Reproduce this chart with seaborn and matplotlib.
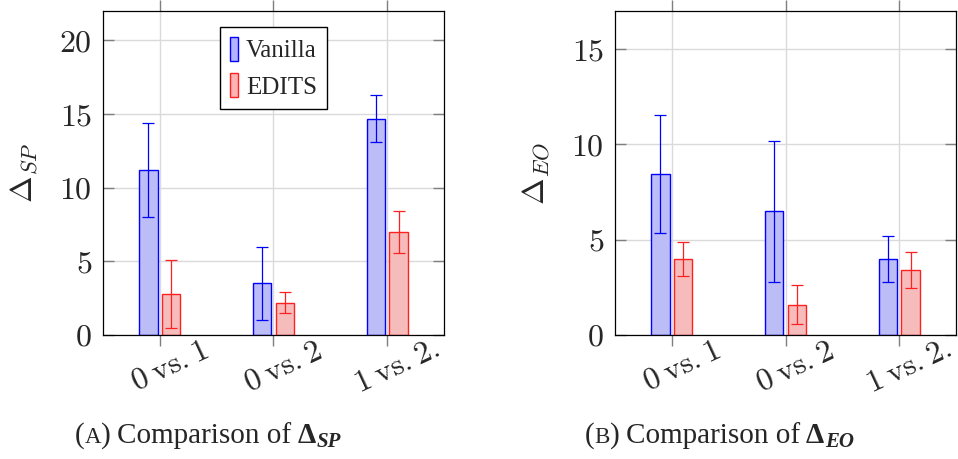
import numpy as np
import pandas as pd
import seaborn as sns
import matplotlib
matplotlib.use("Agg")
import matplotlib.pyplot as plt
from matplotlib.patches import Patch
from matplotlib.transforms import ScaledTranslation

# ---- data -----------------------------------------------------------------
categories = ["0 vs. 1", "0 vs. 2", "1 vs. 2."]
methods = ["Vanilla", "EDITS"]

sp_vanilla = [11.2, 3.5, 14.7]
sp_vanilla_err = [3.2, 2.5, 1.6]
sp_edits = [2.8, 2.2, 7.0]
sp_edits_err = [2.3, 0.7, 1.4]

eo_vanilla = [8.45, 6.5, 4.0]
eo_vanilla_err = [3.1, 3.7, 1.2]
eo_edits = [4.0, 1.6, 3.4]
eo_edits_err = [0.9, 1.0, 0.95]

sp_yticks = [0, 5, 10, 15, 20]
eo_yticks = [0, 5, 10, 15]

# ---- style ----------------------------------------------------------------
sns.set_style("white")
plt.rcParams["font.family"] = ["Liberation Serif", "DejaVu Serif"]
plt.rcParams["mathtext.fontset"] = "cm"

fills = {"Vanilla": "#b3b3ff", "EDITS": "#ffb3b3"}
edges = {"Vanilla": "#0000ff", "EDITS": "#ff2020"}

W, H = 958, 459
fig = plt.figure(figsize=(W / 100, H / 100), dpi=100)


def px_axes(x0, x1, y0, y1):
    return fig.add_axes([x0 / W, 1 - y1 / H, (x1 - x0) / W, (y1 - y0) / H])


def math_label(s):
    # mathtext already puts a small space after the period
    s = s.replace(". ", ".").replace(" ", r"\:")
    return r"$\mathrm{" + s + "}$"


def draw_panel(ax, vanilla, vanilla_err, edits, edits_err, ymax, yticks, ylabel):
    df = pd.DataFrame({
        "pair": categories * 2,
        "method": [methods[0]] * 3 + [methods[1]] * 3,
        "value": list(vanilla) + list(edits),
    })
    sns.barplot(data=df, x="pair", y="value", hue="method", order=categories,
                hue_order=methods, palette=fills, width=0.4, gap=0.2,
                errorbar=None, legend=False, ax=ax, zorder=3)
    errs = {"Vanilla": (vanilla, vanilla_err), "EDITS": (edits, edits_err)}
    for m, cont in zip(methods, ax.containers):
        vals, err = errs[m]
        xs = []
        for p in cont.patches:
            p.set_edgecolor(edges[m])
            p.set_linewidth(1.0)
            xs.append(p.get_x() + p.get_width() / 2)
        ax.errorbar(xs, vals, yerr=err, fmt="none", ecolor=edges[m],
                    elinewidth=0.9, capsize=4, capthick=0.9, zorder=4)

    ax.set_xlim(-0.5, 2.5)
    ax.set_ylim(0, ymax)
    ax.set_yticks(yticks, labels=[f"${v}$" for v in yticks])
    ax.set_xticks(range(len(categories)), labels=[math_label(c) for c in categories])
    ax.tick_params(axis="y", direction="in", length=8, width=1, color="#7f7f7f",
                   left=True, right=True, labelsize=23, pad=8)
    ax.tick_params(axis="x", direction="out", length=8, width=1, color="#7f7f7f",
                   bottom=True, top=True, labelsize=23, pad=2)
    shift = ScaledTranslation(4 / 100, -5 / 100, fig.dpi_scale_trans)
    for lbl in ax.get_xticklabels():
        lbl.set_rotation(25)
        lbl.set_rotation_mode("anchor")
        lbl.set_ha("center")
        lbl.set_va("top")
        lbl.set_transform(lbl.get_transform() + shift)
    ax.grid(True, color="#dadada", linewidth=1.0, zorder=0)
    ax.set_axisbelow(True)
    for s in ax.spines.values():
        s.set_color("black")
        s.set_linewidth(0.9)
        s.set_zorder(5)
    ax.set_xlabel("")
    ax.set_ylabel(ylabel, fontsize=23, labelpad=14)


ax1 = px_axes(103, 444, 11, 335)
draw_panel(ax1, sp_vanilla, sp_vanilla_err, sp_edits, sp_edits_err, 22,
           sp_yticks, r"$\Delta_{SP}$")
ax2 = px_axes(615, 956, 11, 335)
draw_panel(ax2, eo_vanilla, eo_vanilla_err, eo_edits, eo_edits_err, 17,
           eo_yticks, r"$\Delta_{EO}$")

handles = [Patch(facecolor=fills[m], edgecolor=edges[m], linewidth=1.0) for m in methods]
leg = ax1.legend(handles, methods, loc="upper center", bbox_to_anchor=(0.5, 0.975),
                 fontsize=18, frameon=True, fancybox=False, edgecolor="black",
                 framealpha=1, handlelength=0.33, handleheight=1.1, handletextpad=0.3,
                 labelspacing=0.45, borderpad=0.4, borderaxespad=0.3)
leg.get_frame().set_linewidth(1.0)

# ---- captions ---------------------------------------------------------------
renderer = fig.canvas.get_renderer()


def caption(x_px, base_px, pieces):
    x = x_px
    for s, kw, dy, gap in pieces:
        t = fig.text(x / W, 1 - (base_px + dy) / H, s, ha="left", va="baseline", **kw)
        x += t.get_window_extent(renderer).width + gap


reg = dict(fontsize=21)
sc = dict(fontsize=16.5)
bold = dict(fontsize=21, fontweight="bold")
sub = dict(fontsize=15, fontweight="bold", fontstyle="italic")

for x0, letter, subtxt in [(75, "A", "SP"), (585, "B", "EO")]:
    caption(x0, 443, [
        ("(", reg, 0, 0), (letter, sc, 0, 0), (")", reg, 0, 6),
        ("Comparison of", reg, 0, 6),
        ("\u0394", bold, 0, 1), (subtxt, sub, 4, 0),
    ])

fig.savefig("out.png", dpi=100)
